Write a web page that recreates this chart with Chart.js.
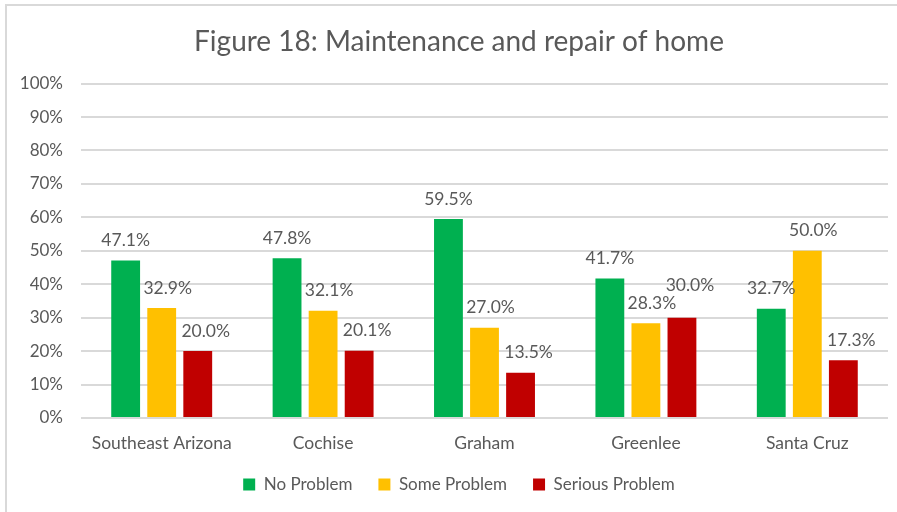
<!DOCTYPE html>
<html>
<head>
<meta charset="utf-8">
<script src="https://cdn.jsdelivr.net/npm/chart.js@4.4.1/dist/chart.umd.min.js"></script>
<style>
  html, body { margin: 0; padding: 0; background: #ffffff; }
  #wrap { position: relative; width: 897px; height: 512px; }
</style>
</head>
<body>
<div id="wrap"><canvas id="c" width="897" height="512"></canvas></div>
<script>
const categories = ["Southeast Arizona", "Cochise", "Graham", "Greenlee", "Santa Cruz"];
const noProblem = [47.1, 47.8, 59.5, 41.7, 32.7];
const someProblem = [32.9, 32.1, 27.0, 28.3, 50.0];
const seriousProblem = [20.0, 20.1, 13.5, 30.0, 17.3];
const seriesNames = ["No Problem", "Some Problem", "Serious Problem"];
const titleText = "Figure 18: Maintenance and repair of home";

const FONT = "Lato, 'Open Sans', sans-serif";
const TEXT = "#595959";

const framePlugin = {
  id: 'frame',
  afterLayout(chart) {
    // let the y tick labels extend into the left padding without being clipped
    chart.scales.y.left = 0;
  },
  beforeDraw(chart) {
    const ctx = chart.ctx;
    ctx.save();
    ctx.fillStyle = '#ffffff';
    ctx.fillRect(0, 0, chart.width, chart.height);
    ctx.fillStyle = '#d9d9d9';
    ctx.fillRect(5, 4, chart.width - 5, 2);
    ctx.fillRect(5, 4, 2, chart.height - 4);
    ctx.restore();
  }
};

const valueLabels = {
  id: 'valueLabels',
  afterDatasetsDraw(chart) {
    const ctx = chart.ctx;
    ctx.save();
    ctx.font = "17.5px " + FONT;
    ctx.fillStyle = TEXT;
    ctx.textAlign = 'center';
    ctx.textBaseline = 'middle';
    const h = 18;
    const n = chart.data.labels.length;
    for (let j = 0; j < n; j++) {
      let prev = null;
      chart.data.datasets.forEach((ds, i) => {
        const bar = chart.getDatasetMeta(i).data[j];
        const txt = ds.data[j].toFixed(1) + '%';
        const w = ctx.measureText(txt).width;
        const x = bar.x + (ds.labelDx || 0);
        let y = bar.y - 20;
        if (prev) {
          const overlapX = Math.abs(x - prev.x) < (w + prev.w) / 2;
          const overlapY = Math.abs(y - prev.y) < h;
          if (overlapX && overlapY) y = prev.y - h;
        }
        ctx.fillText(txt, x, y);
        prev = { x, y, w };
      });
    }
    ctx.restore();
  }
};

new Chart(document.getElementById('c'), {
  type: 'bar',
  data: {
    labels: categories,
    datasets: [
      { label: seriesNames[0], data: noProblem, backgroundColor: '#00b050', labelDx: 0 },
      { label: seriesNames[1], data: someProblem, backgroundColor: '#ffc000', labelDx: 6 },
      { label: seriesNames[2], data: seriousProblem, backgroundColor: '#c00000', labelDx: 8 }
    ]
  },
  options: {
    responsive: false,
    animation: false,
    devicePixelRatio: 1,
    layout: { padding: { left: 30, right: 9, top: 0, bottom: 9 } },
    datasets: { bar: { categoryPercentage: 0.67, barPercentage: 0.8 } },
    plugins: {
      title: {
        display: true,
        text: titleText,
        color: TEXT,
        font: { family: FONT, size: 28, weight: 'normal' },
        padding: { top: 25, bottom: 25 }
      },
      legend: {
        position: 'bottom',
        labels: {
          color: TEXT,
          font: { family: FONT, size: 17 },
          boxWidth: 12,
          boxHeight: 12,
          padding: 26
        }
      },
      tooltip: { enabled: false }
    },
    scales: {
      x: {
        grid: { display: false, drawTicks: false },
        border: { display: false },
        ticks: { color: TEXT, font: { family: FONT, size: 17.5 }, padding: 15 },
        afterFit(s) { s.height = 32; }
      },
      y: {
        min: 0, max: 100,
        ticks: { stepSize: 10, color: TEXT, font: { family: FONT, size: 17 }, padding: 18,
                 callback: v => v + '%' },
        grid: { color: '#d9d9d9', lineWidth: 2, drawTicks: false },
        border: { display: false },
        afterFit(s) { s.width = 51; }
      }
    }
  },
  plugins: [framePlugin, valueLabels]
});
</script>
</body>
</html>
